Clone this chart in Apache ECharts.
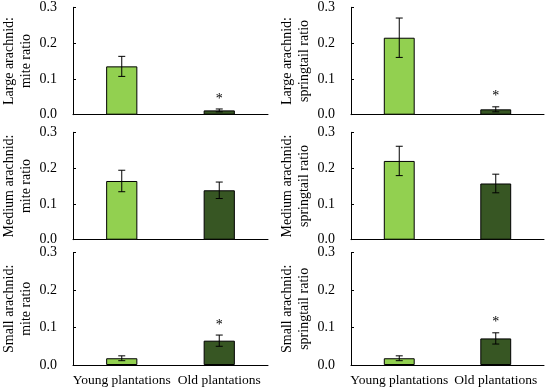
<!DOCTYPE html>
<html>
<head>
<meta charset="utf-8">
<script src="https://cdn.jsdelivr.net/npm/echarts@6/dist/echarts.min.js"></script>
<style>html,body{margin:0;padding:0;background:#fff}#c{width:550px;height:391px}</style>
</head>
<body>
<div id="c"></div>
<script>
const categories = ['Young plantations', 'Old plantations'];
const yTickValues = [0.0, 0.1, 0.2, 0.3];
const panelTitles = [
  'Large arachnid:\nmite ratio', 'Large arachnid:\nspringtail ratio',
  'Medium arachnid:\nmite ratio', 'Medium arachnid:\nspringtail ratio',
  'Small arachnid:\nmite ratio', 'Small arachnid:\nspringtail ratio'
];
const meanLargeMite = [0.135, 0.012];
const errLargeMite = [0.028, 0.004];
const meanLargeSpring = [0.215, 0.015];
const errLargeSpring = [0.055, 0.007];
const meanMediumMite = [0.164, 0.138];
const errMediumMite = [0.030, 0.023];
const meanMediumSpring = [0.220, 0.157];
const errMediumSpring = [0.041, 0.026];
const meanSmallMite = [0.018, 0.065];
const errSmallMite = [0.0065, 0.015];
const meanSmallSpring = [0.018, 0.071];
const errSmallSpring = [0.0065, 0.015];
const sigLargeMite = [false, true];
const sigLargeSpring = [false, true];
const sigMediumMite = [false, false];
const sigMediumSpring = [false, false];
const sigSmallMite = [false, true];
const sigSmallSpring = [false, true];

const panels = [
  [meanLargeMite, errLargeMite, sigLargeMite],
  [meanLargeSpring, errLargeSpring, sigLargeSpring],
  [meanMediumMite, errMediumMite, sigMediumMite],
  [meanMediumSpring, errMediumSpring, sigMediumSpring],
  [meanSmallMite, errSmallMite, sigSmallMite],
  [meanSmallSpring, errSmallSpring, sigSmallSpring]
];

const barColors = ['#92d050', '#375623'];
const font = '"Liberation Serif", "Times New Roman", serif';
const rows = [[7.3, 107.4], [132.3, 107.4], [252.7, 112.3]];
const cols = [[72, 196, 38], [351, 193, 38]];

const grid = [], xAxis = [], yAxis = [], series = [];
panels.forEach((p, i) => {
  const r = rows[Math.floor(i / 2)], c = cols[i % 2];
  const [means, errs, sig] = p;
  grid.push({left: c[0], top: r[0], width: c[1], height: r[1]});
  xAxis.push({
    type: 'category', gridIndex: i, data: categories,
    axisLine: {lineStyle: {color: '#000', width: 1}},
    axisTick: {inside: true, length: 3, lineStyle: {color: '#000'}},
    axisLabel: {show: i >= 4, interval: 0, color: '#000', fontFamily: font, fontSize: 13.5, margin: 8}
  });
  yAxis.push({
    type: 'value', gridIndex: i, min: yTickValues[0], max: yTickValues[yTickValues.length - 1], interval: 0.1,
    name: panelTitles[i], nameLocation: 'middle', nameRotate: 90, nameGap: c[2],
    nameTextStyle: {color: '#000', fontFamily: font, fontSize: 14, lineHeight: 17, align: 'center'},
    axisLine: {show: true, lineStyle: {color: '#000', width: 1}},
    axisTick: {show: true, inside: true, length: 3, lineStyle: {color: '#000'}},
    splitLine: {show: false},
    axisLabel: {color: '#000', fontFamily: font, fontSize: 14, margin: 16, formatter: v => v.toFixed(1)}
  });
  series.push({
    type: 'bar', xAxisIndex: i, yAxisIndex: i, barWidth: '32%',
    data: means.map((v, k) => ({value: v, itemStyle: {color: barColors[k], borderColor: '#000', borderWidth: 1}})),
    animation: false
  });
  series.push({
    type: 'custom', xAxisIndex: i, yAxisIndex: i, animation: false, z: 5,
    data: means.map((v, k) => [k, v - errs[k], v + errs[k], sig[k] ? 1 : 0]),
    renderItem: (params, api) => {
      const x = api.value(0);
      const lo = api.coord([x, api.value(1)]);
      const hi = api.coord([x, api.value(2)]);
      const cw = 3.5;
      const st = {stroke: '#000', lineWidth: 1};
      const children = [
        {type: 'line', shape: {x1: lo[0], y1: lo[1], x2: hi[0], y2: hi[1]}, style: st},
        {type: 'line', shape: {x1: lo[0] - cw, y1: lo[1], x2: lo[0] + cw, y2: lo[1]}, style: st},
        {type: 'line', shape: {x1: hi[0] - cw, y1: hi[1], x2: hi[0] + cw, y2: hi[1]}, style: st}
      ];
      if (api.value(3)) {
        children.push({type: 'text', style: {text: '*', x: hi[0], y: hi[1] - 3, textAlign: 'center', textVerticalAlign: 'bottom', fill: '#000', font: '14px ' + font}});
      }
      return {type: 'group', children};
    }
  });
});

const chart = echarts.init(document.getElementById('c'));
chart.setOption({animation: false, backgroundColor: '#fff', grid, xAxis, yAxis, series});
</script>
</body>
</html>
